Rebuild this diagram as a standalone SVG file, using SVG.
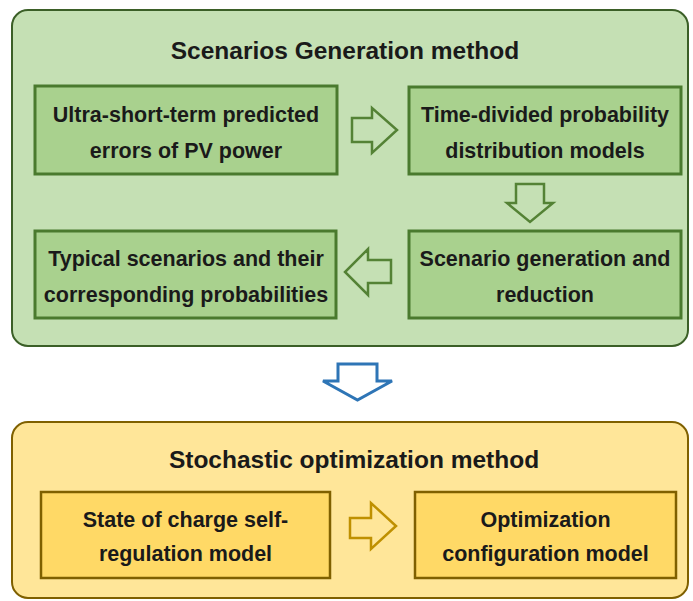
<svg xmlns="http://www.w3.org/2000/svg" width="693" height="601" viewBox="0 0 693 601">
<style>
  .title { font-family: "Liberation Sans", Arial, sans-serif; font-weight: bold; font-size: 24.5px; fill: #1a1a1a; text-anchor: middle; }
  .lbl { font-family: "Liberation Sans", Arial, sans-serif; font-weight: bold; font-size: 21.5px; fill: #1a1a1a; text-anchor: middle; }
  .gpanel { fill: #c5e0b4; stroke: #3b5f27; stroke-width: 2; }
  .ypanel { fill: #ffe699; stroke: #7f6000; stroke-width: 2; }
  .gbox { fill: #a9d18e; stroke: #4a7a2e; stroke-width: 3; }
  .ybox { fill: #ffd966; stroke: #7f6000; stroke-width: 2.5; }
  .garrow { fill: #c5e0b4; stroke: #548235; stroke-width: 2.5; stroke-linejoin: miter; }
  .yarrow { fill: #ffe699; stroke: #bf9000; stroke-width: 2.5; stroke-linejoin: miter; }
  .barrow { fill: #ffffff; stroke: #2e75b6; stroke-width: 3; stroke-linejoin: miter; }
</style>
<rect width="693" height="601" fill="#ffffff"/>

<g id="panel-scenarios">
  <rect class="gpanel" x="12" y="10" width="676" height="336" rx="16"/>
  <text class="title" x="345" y="59">Scenarios Generation method</text>
</g>
<g id="panel-stochastic">
  <rect class="ypanel" x="12" y="422" width="676" height="176" rx="16"/>
  <text class="title" x="354" y="468">Stochastic optimization method</text>
</g>

<g id="node-errors">
  <rect class="gbox" x="35" y="86" width="302" height="88"/>
  <text class="lbl" x="186" y="122">Ultra-short-term predicted</text>
  <text class="lbl" x="186" y="158">errors of PV power</text>
</g>
<g id="node-timedivided">
  <rect class="gbox" x="409" y="87" width="272" height="87"/>
  <text class="lbl" x="545" y="122">Time-divided probability</text>
  <text class="lbl" x="545" y="158">distribution models</text>
</g>
<g id="node-generation">
  <rect class="gbox" x="409" y="231" width="272" height="87"/>
  <text class="lbl" x="545" y="266">Scenario generation and</text>
  <text class="lbl" x="545" y="302">reduction</text>
</g>
<g id="node-typical">
  <rect class="gbox" x="35" y="231" width="301" height="87"/>
  <text class="lbl" x="186" y="266">Typical scenarios and their</text>
  <text class="lbl" x="186" y="302">corresponding probabilities</text>
</g>
<g id="node-soc">
  <rect class="ybox" x="41" y="492" width="289" height="86"/>
  <text class="lbl" x="185.5" y="527">State of charge self-</text>
  <text class="lbl" x="185.5" y="561">regulation model</text>
</g>
<g id="node-optconfig">
  <rect class="ybox" x="415" y="492" width="261" height="86"/>
  <text class="lbl" x="545.5" y="527">Optimization</text>
  <text class="lbl" x="545.5" y="561">configuration model</text>
</g>

<g id="connectors">
  <path class="garrow" d="M352,118 H372 V108 L397,130 L372,153 V142 H352 Z"/>
  <path class="garrow" d="M516,184 H544 V203 H553 L530,222 L507,203 H516 Z"/>
  <path class="garrow" d="M391,260 H368 V249 L345,272 L368,295 V283 H391 Z"/>
  <path class="barrow" d="M338,364 H377 V381 H392 L357.5,400 L323,381 H338 Z"/>
  <path class="yarrow" d="M350,518 H371 V503 L396,526 L371,549 V538 H350 Z"/>
</g>
</svg>
